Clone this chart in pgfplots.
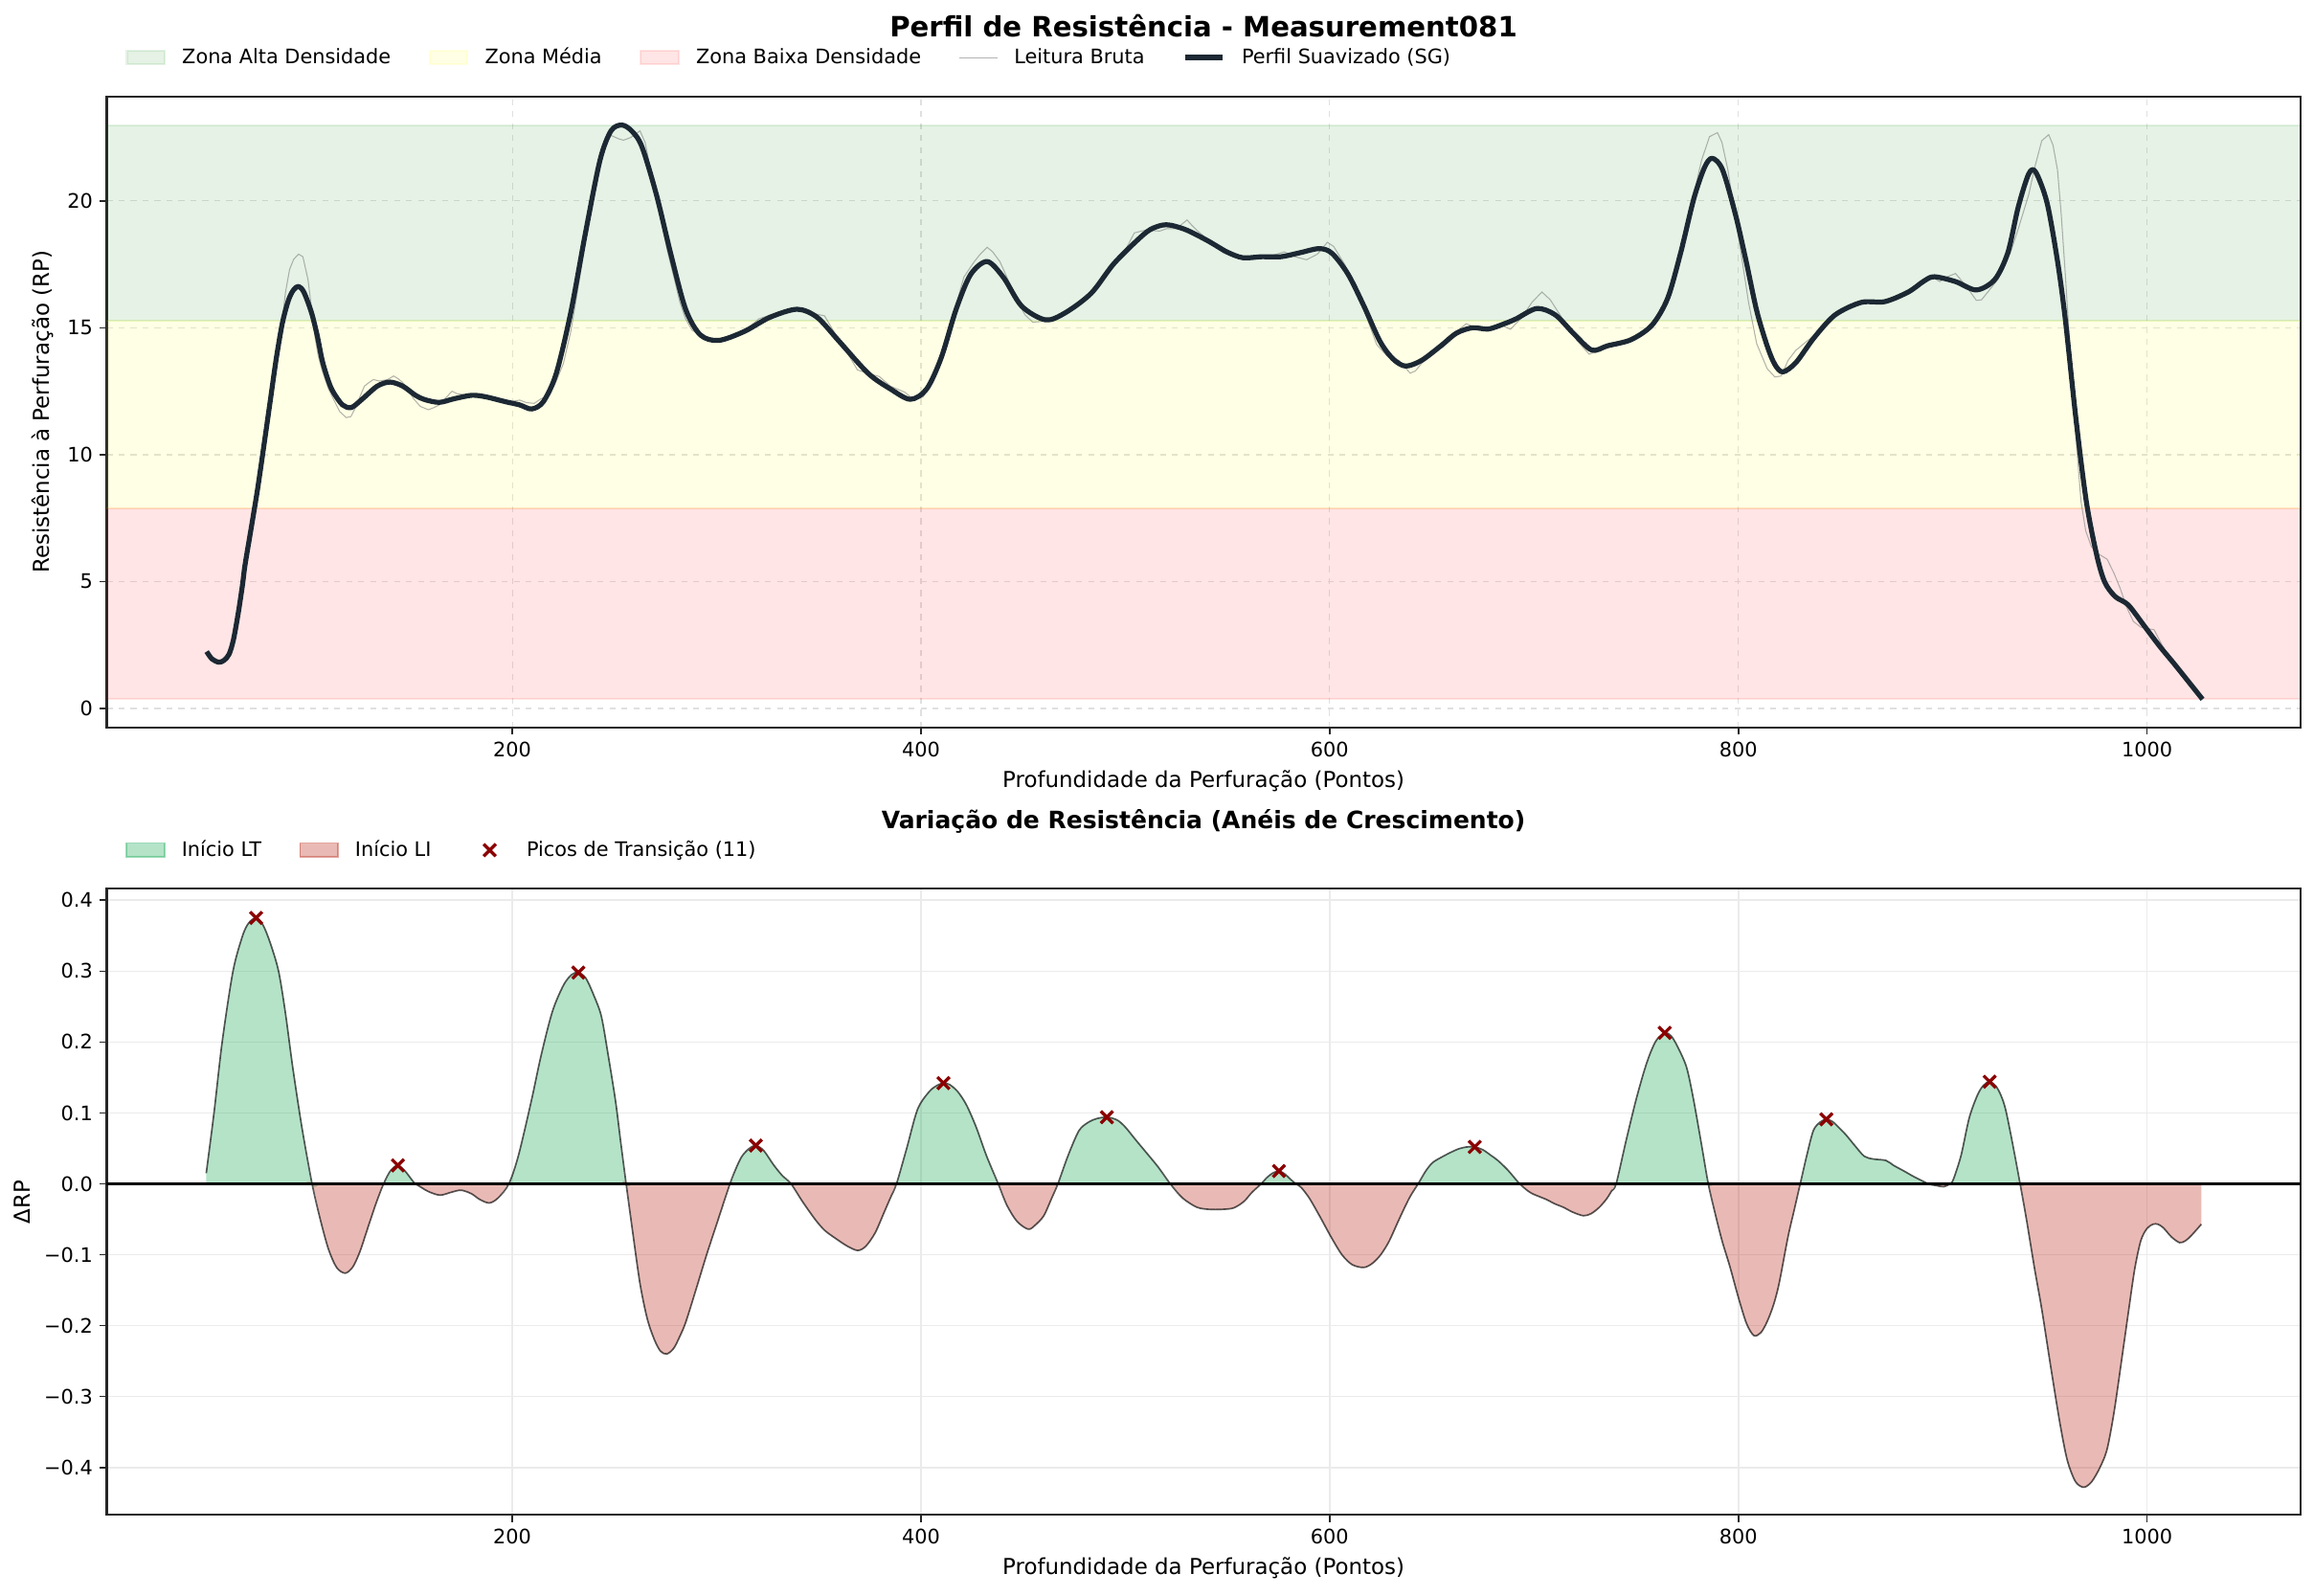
\documentclass[border=0pt]{standalone}
\usepackage{fontspec}
\setmainfont{DejaVu Sans}
\usepackage{pgfplots}
\usepackage{pgfplotstable}
\pgfplotsset{compat=1.18}

\definecolor{smoothc}{HTML}{1C2833}
\definecolor{ltgreen}{HTML}{27AE60}
\definecolor{ltred}{HTML}{C0392B}
\definecolor{peakc}{HTML}{8B0000}
\definecolor{zgreen}{HTML}{008000}
\definecolor{zyellow}{HTML}{FFFF00}
\definecolor{zred}{HTML}{FF0000}
\definecolor{spine}{HTML}{262626}

% smoothed profile (SG)
\pgfplotstableread{
x y
50.4 2.24
53 1.95
56.4 1.82
59 1.9
61.4 2.14
63.5 2.7
65.9 3.77
68 4.9
69.2 5.66
72.4 7.2
75.4 8.68
78.5 10.4
81.5 12.1
84.5 13.8
87.5 15.2
90.5 16.1
93 16.5
95.4 16.63
98 16.4
101.7 15.6
104.5 14.7
107 13.7
110 12.9
112.4 12.46
116.9 11.96
121.3 11.86
126.7 12.2
133.9 12.7
140.1 12.86
146.4 12.7
152.6 12.34
157.1 12.17
164.2 12.06
171.4 12.2
180.3 12.34
187.5 12.27
196.4 12.09
203.6 11.96
209.5 11.8
215.2 12.09
221.5 13.2
228.6 15.6
235.8 18.74
242.9 21.6
248.3 22.76
253.6 22.99
258.5 22.75
263.4 22.14
270.5 20.25
277.7 17.86
284.8 15.73
292 14.72
300.9 14.5
313.4 14.85
326 15.41
339.4 15.73
349.2 15.41
359.9 14.47
374.2 13.2
385 12.59
394.8 12.18
402.8 12.59
410 13.84
417.2 15.73
424.3 17.1
432.4 17.61
440.4 16.98
449.3 15.85
461 15.31
470.8 15.6
483.3 16.36
494 17.49
504.8 18.37
512.2 18.87
520 19.06
529.4 18.87
540.3 18.43
549.7 17.99
557.5 17.76
566.9 17.8
576.2 17.8
585.6 17.96
595 18.12
601.2 17.93
609 17.11
616.8 15.85
624.6 14.47
630.9 13.78
637.1 13.49
644.9 13.71
654.3 14.28
662.1 14.79
669.9 15.0
677.7 14.95
685.5 15.16
691.2 15.35
701.4 15.76
710.4 15.51
719.3 14.78
728.3 14.12
736 14.29
747.5 14.53
757.7 15.1
765.4 16.16
771.8 17.96
778.2 20.08
783.4 21.31
787.2 21.68
792.3 21.22
798.7 19.43
803.8 17.63
809 15.67
814.1 14.29
817.9 13.55
821.8 13.26
828.2 13.63
837.1 14.61
847.4 15.51
860.2 16.0
871.7 16.03
883.2 16.41
891 16.85
896 17.01
906.3 16.82
916.5 16.49
925.5 16.9
931.9 17.96
937 19.76
942.1 21.06
945.5 21.14
951.1 19.92
956.2 17.63
960 15.35
965.2 11.43
970.3 8.16
975.4 6.04
979.3 4.98
984.4 4.41
990.8 4.08
998.5 3.27
1006.2 2.45
1013.8 1.71
1027.2 0.36
}\smoothtab

% raw reading
\pgfplotstableread{
x y
50.4 2.2
53 1.95
56.4 1.85
59 1.95
61.4 2.2
63.5 2.8
66 3.7
69 5.4
72.4 7.0
75.4 8.6
78.5 10.3
81.5 12.0
84.5 13.6
87 15.0
89 16.4
91 17.3
93 17.7
95.4 17.9
97.5 17.8
100 16.9
102 15.6
103.5 14.6
105 13.9
107 13.3
110 12.6
112.4 12.2
115.5 11.7
118.7 11.46
121 11.5
123.1 11.83
125.5 12.3
127.6 12.7
130 12.85
132 12.96
135 12.9
139 12.96
141.9 13.1
144 13.0
146.4 12.84
149 12.55
151.7 12.2
155 11.9
158.9 11.77
161.5 11.85
164.2 11.96
167 12.2
170.5 12.5
173 12.4
176.8 12.36
180 12.3
183.9 12.27
188 12.2
192.9 12.09
196 12.15
200 12.1
203.6 12.15
207 12.05
210.7 12.02
214 12.2
217.9 12.34
221 12.8
225 13.59
228.6 14.85
231 16.0
234 17.5
237.6 19.37
240 20.5
243 21.6
246 22.3
248.3 22.58
251.9 22.45
254.4 22.39
258 22.5
262.5 22.76
265 22.3
267 21.5
270 20.3
272.3 19.4
276 18.0
279.5 16.86
282 16.0
284.8 15.35
288 14.9
292 14.72
296 14.6
300.9 14.55
306 14.6
313.4 14.85
320.6 15.35
326 15.5
333 15.6
339.4 15.75
345 15.6
352.8 15.47
359.9 14.5
364 14.0
368.9 13.34
374 13.2
379.6 13.08
385 12.7
392.1 12.46
396 12.2
401 12.27
404 12.7
408.2 13.59
412 14.6
417.2 15.9
421 17.0
426.1 17.61
429 17.9
432.4 18.17
435 18.0
438.6 17.61
442 17.0
447.6 15.98
451 15.5
454.7 15.22
459 15.25
463.6 15.35
470.8 15.6
477 15.9
483.3 16.36
490 17.0
494 17.4
499 17.9
504.4 18.74
510 18.85
516.9 18.81
520 18.9
525 18.9
530.2 19.25
533 19.0
535.6 18.8
540 18.5
543.4 18.24
548 17.95
552.8 17.8
558 17.75
563 17.85
568 17.75
572 17.85
577.8 17.99
583 17.8
588.7 17.68
594 17.9
598.9 18.37
602 18.2
607.4 17.49
612 16.7
618.4 15.35
623 14.34
628 13.9
634 13.71
639.4 13.21
642 13.3
644.9 13.59
650 14.0
654.3 14.28
660 14.7
666.8 15.16
672 15.0
678 14.95
684 15.1
688.5 14.94
694 15.4
699 16.0
703.9 16.41
708 16.1
712 15.6
716.7 15.02
721 14.5
727 13.96
732 14.1
737 14.25
742.4 14.37
747 14.5
752.6 14.78
756 14.9
760.3 15.35
765 16.2
769.3 17.31
774 18.8
778.2 20.24
782 21.6
785.9 22.53
789.8 22.69
792 22.3
794.9 21.22
798 19.6
801.3 17.96
805 16.0
809 14.37
814.1 13.39
817.9 13.06
821 13.1
824.3 13.71
828 14.1
832 14.37
837.1 14.7
843 15.2
847.4 15.5
853 15.8
860.2 16.0
866 16.0
871.7 16.05
877 16.1
883.2 16.41
888 16.7
893.5 17.06
898.6 16.82
902 17.0
906.3 17.14
911.4 16.65
916.5 16.08
919 16.1
922.9 16.49
927 16.9
933.2 17.96
937 18.9
942.1 20.24
945 21.3
948.5 22.37
951.9 22.61
954 22.2
956.2 21.22
958 19.5
960 17.14
962 14.6
963.9 12.24
965.8 10.1
967.7 8.16
970 7.0
972.8 6.37
976 6.1
980.5 5.88
984 5.3
986.9 4.73
990 4.0
993.3 3.43
997 3.2
1000 3.15
1003.5 3.1
1007 2.55
1011.2 1.96
1016 1.5
1021 1.0
1026.6 0.49
}\rawtab

% resistance variation
\pgfplotstableread{
x y
50.2 0.015
54 0.10
58 0.20
63.3 0.30
68 0.35
71 0.368
74.6 0.375
78 0.365
81.5 0.34
85.6 0.30
89 0.24
92.5 0.165
97 0.08
102 0.0
106 -0.05
110 -0.092
114 -0.118
118.2 -0.126
122 -0.117
125.5 -0.095
128.5 -0.069
133 -0.03
137 0.0
140.5 0.019
144 0.026
147.5 0.018
151 0.005
152.5 0.0
154.3 -0.003
159 -0.011
164.6 -0.016
170 -0.012
174.9 -0.009
180 -0.014
184 -0.022
188.7 -0.027
193 -0.02
198.3 0.0
203 0.04
209.3 0.117
214 0.18
219.6 0.243
225 0.28
229 0.295
232.3 0.298
236 0.29
240 0.265
243.6 0.236
247 0.18
250.5 0.117
253 0.06
255.7 0.0
259 -0.07
262.5 -0.141
266 -0.19
269.4 -0.219
272.5 -0.236
275.6 -0.240
279 -0.232
282 -0.215
284.9 -0.195
290 -0.148
295.2 -0.099
301 -0.048
306.5 0.0
309.5 0.022
312.4 0.039
316 0.05
319.2 0.054
323 0.047
327.8 0.027
332 0.012
336.4 0.0
342 -0.025
348.4 -0.051
353 -0.066
358.7 -0.078
364 -0.088
369 -0.094
373 -0.088
377.6 -0.069
382 -0.04
385 -0.02
388 0.0
393 0.05
398.3 0.105
404 0.13
408 0.139
411 0.142
414 0.14
418 0.13
422.3 0.111
427 0.08
432 0.04
437.8 0.0
442 -0.03
447 -0.053
452.5 -0.064
456 -0.058
460.1 -0.045
464 -0.02
467 0.0
472 0.04
477.3 0.075
482 0.087
486 0.092
491 0.094
496 0.09
500 0.08
504.8 0.063
510 0.045
516 0.024
522 0.0
528 -0.02
535 -0.033
541 -0.036
547.5 -0.036
553 -0.034
558 -0.025
562 -0.012
566.5 0.0
569 0.008
572 0.015
575.2 0.018
578 0.014
581 0.006
583.5 0.0
586 -0.005
590 -0.02
595 -0.045
600.7 -0.075
606 -0.1
611 -0.114
616.7 -0.118
621 -0.112
625 -0.1
629.1 -0.081
634 -0.05
639 -0.02
643.3 0.0
647 0.018
650.4 0.030
655 0.038
659 0.044
662.8 0.049
667 0.052
671 0.052
675 0.048
679 0.04
682.3 0.033
687 0.02
690 0.01
693 0.0
697 -0.01
700 -0.015
706 -0.022
710 -0.028
714.3 -0.033
719 -0.04
724.2 -0.045
728 -0.042
732 -0.033
735.6 -0.021
738 -0.01
740.2 0.0
745 0.06
749.8 0.117
754 0.16
757 0.185
760 0.203
764 0.213
767 0.209
770 0.195
774.6 0.165
778 0.12
782 0.055
785.3 0.0
788.5 -0.04
792 -0.08
795.9 -0.117
800 -0.16
804 -0.197
807.6 -0.214
811 -0.21
814 -0.195
817.2 -0.171
820 -0.14
824.3 -0.075
827.5 -0.035
830.3 0.0
833.5 0.04
836.7 0.075
840 0.087
843.1 0.091
846 0.088
849 0.08
852.7 0.069
857 0.054
861.6 0.039
866 0.035
872.2 0.033
876 0.026
881.1 0.018
886 0.01
893 0.0
896 -0.002
900.6 -0.004
903.5 0.0
905.2 0.006
909 0.04
913 0.093
917 0.125
920 0.139
923 0.144
926 0.138
928.5 0.125
930.8 0.105
934 0.06
937.9 0.0
941 -0.05
945 -0.12
948.5 -0.177
953 -0.26
957.4 -0.338
961 -0.39
965 -0.42
969.1 -0.428
973 -0.42
977 -0.4
980.5 -0.374
984 -0.32
988 -0.24
991.1 -0.177
994 -0.12
997 -0.08
1000 -0.063
1003 -0.057
1005.3 -0.057
1008 -0.062
1012 -0.075
1016 -0.083
1019 -0.08
1022 -0.072
1026.6 -0.057
}\drptab

\pgfplotsset{
  patchlegend/.style={legend image code/.code={\draw[##1] (0pt,-3.5pt) rectangle (19pt,3.5pt);}},
  linelegend/.style={legend image code/.code={\draw[##1] (0pt,0pt) -- (19pt,0pt);}},
  marklegend/.style={legend image code/.code={\path (0pt,0pt) (19pt,0pt); \draw[##1] plot coordinates {(9.5pt,0pt)};}},
  common/.style={
    scale only axis, width=1099.6pt,
    xmin=1.5, xmax=1075,
    xtick={200,400,600,800,1000},
    xticklabels={200,400,600,800,1000},
    axis line style={spine, line width=1pt},
    tick align=outside, tick pos=left,
    major tick length=3.5pt,
    every tick/.style={spine, line width=0.8pt},
    tick label style={font=\fontsize{10}{12}\selectfont, color=black},
    label style={font=\fontsize{11}{13}\selectfont},
    xlabel={Profundidade da Perfuração (Pontos)},
    legend cell align=left,
    legend style={at={(0,1)}, anchor=south west, xshift=9.4pt, yshift=14.5pt,
      draw=none, fill=none, inner sep=0pt,
      font=\fontsize{10}{12}\selectfont, nodes={inner sep=0pt},
      /tikz/every odd column/.append style={column sep=8.2pt},
      /tikz/every even column/.append style={column sep=19pt}},
  }
}

\begin{document}
\begin{tikzpicture}
\useasboundingbox (0,0) rectangle (1160pt,800pt);

\begin{axis}[common, at={(53.5pt,435.2pt)}, height=316.5pt,
  ymin=-0.76, ymax=24.12, ytick={0,5,10,15,20},
  yticklabels={0,5,10,15,20},
  grid=major, grid style={dashed, black!12, line width=0.6pt},
  ylabel={Resistência à Perfuração (RP)},
  legend columns=5]
\addplot[patchlegend, fill=zgreen, draw=zgreen, fill opacity=0.1, draw opacity=0.1, line width=1pt]
  coordinates {(-100,15.29) (1200,15.29) (1200,22.99) (-100,22.99)} -- cycle;
\addlegendentry{Zona Alta Densidade}
\addplot[patchlegend, fill=zyellow, draw=zyellow, fill opacity=0.1, draw opacity=0.1, line width=1pt]
  coordinates {(-100,7.87) (1200,7.87) (1200,15.29) (-100,15.29)} -- cycle;
\addlegendentry{Zona Média}
\addplot[patchlegend, fill=zred, draw=zred, fill opacity=0.1, draw opacity=0.1, line width=1pt]
  coordinates {(-100,0.38) (1200,0.38) (1200,7.87) (-100,7.87)} -- cycle;
\addlegendentry{Zona Baixa Densidade}
\addplot[linelegend, gray, draw opacity=0.6, line width=0.5pt] table[x=x, y=y] {\rawtab};
\addlegendentry{Leitura Bruta}
\addplot[linelegend, smoothc, line width=2.5pt, smooth, line join=round] table[x=x, y=y] {\smoothtab};
\addlegendentry{Perfil Suavizado (SG)}
\end{axis}

\begin{axis}[common, at={(53.5pt,40.6pt)}, height=313.8pt,
  ymin=-0.467, ymax=0.416,
  ytick={-0.4,-0.3,-0.2,-0.1,0,0.1,0.2,0.3,0.4},
  yticklabels={−0.4,−0.3,−0.2,−0.1,0.0,0.1,0.2,0.3,0.4},
  grid=major, grid style={black!8, line width=0.8pt},
  ylabel={ΔRP},
  legend columns=3]
\addlegendimage{patchlegend, fill=ltgreen, draw=ltgreen, fill opacity=0.35, draw opacity=0.45, line width=0.8pt}
\addlegendentry{Início LT}
\addlegendimage{patchlegend, fill=ltred, draw=ltred, fill opacity=0.35, draw opacity=0.45, line width=0.8pt}
\addlegendentry{Início LI}
\addlegendimage{marklegend, only marks, mark=x, mark size=4.3pt, peakc, line width=1.6pt}
\addlegendentry{Picos de Transição (11)}
\addplot[fill=ltgreen, fill opacity=0.35, draw=none, smooth, tension=0.5, forget plot]
  table[x=x, y expr={max(\thisrow{y},0)}] {\drptab} \closedcycle;
\addplot[fill=ltred, fill opacity=0.35, draw=none, smooth, tension=0.5, forget plot]
  table[x=x, y expr={min(\thisrow{y},0)}] {\drptab} \closedcycle;
\addplot[black, draw opacity=0.65, line width=0.8pt, smooth, tension=0.5, forget plot] table[x=x, y=y] {\drptab};
\addplot[black, line width=1.5pt, forget plot] coordinates {(-100,0) (1200,0)};
\addplot[only marks, mark=x, mark size=4.3pt, peakc, line width=1.6pt, forget plot] coordinates {
(74.6,0.375) (144,0.026) (232.3,0.298) (319.2,0.054) (411,0.142) (491,0.094)
(575.2,0.018) (671,0.052) (764,0.213) (843.1,0.091) (923,0.144)};
\end{axis}

\node[anchor=base, font=\bfseries\fontsize{14}{16}\selectfont] at (603.3pt,781.6pt)
  {Perfil de Resistência - Measurement081};
\node[anchor=base, font=\bfseries\fontsize{12}{14}\selectfont] at (603.3pt,384.8pt)
  {Variação de Resistência (Anéis de Crescimento)};
\end{tikzpicture}
\end{document}
